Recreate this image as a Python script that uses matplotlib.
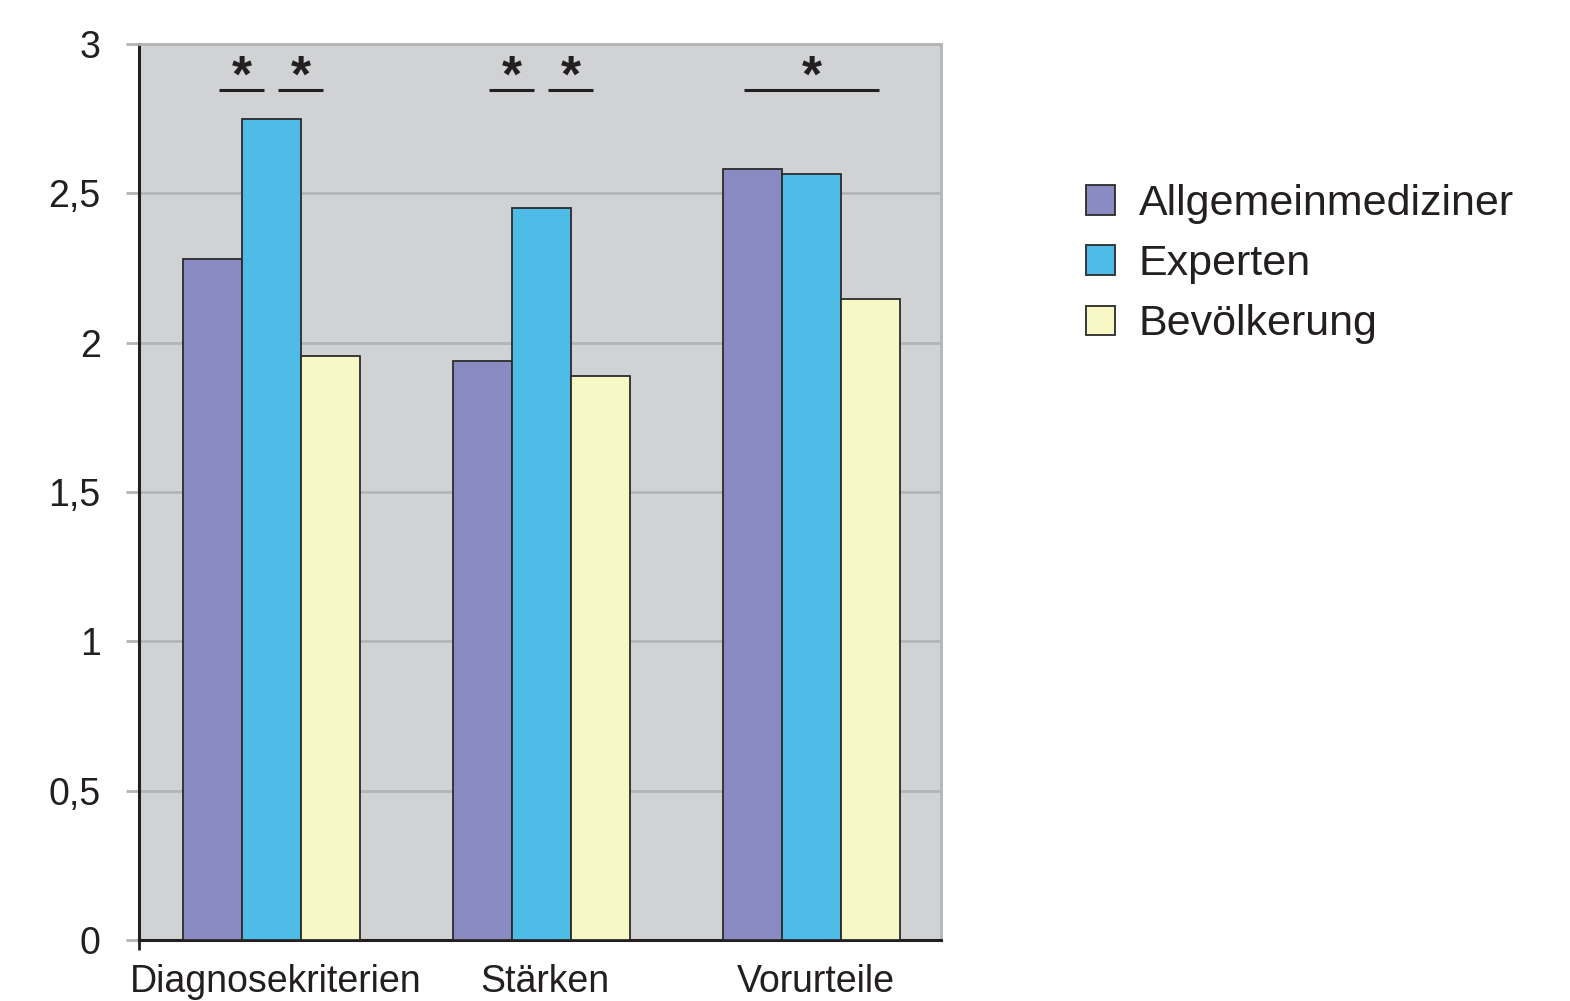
import matplotlib
matplotlib.use("Agg")
import matplotlib.pyplot as plt
import matplotlib.transforms as mtransforms
from matplotlib.patches import Patch
import numpy as np

plt.rcParams['font.family'] = ['Liberation Sans', 'DejaVu Sans']

# -----------------------------------------
# data
# -----------------------------------------
categories = ["Diagnosekriterien", "Stärken", "Vorurteile"]
series_names = ["Allgemeinmediziner", "Experten", "Bevölkerung"]
allgemein = [2.28, 1.94, 2.58]
experten = [2.75, 2.45, 2.565]
bevoelkerung = [1.955, 1.89, 2.145]
y_ticks = [0, 0.5, 1, 1.5, 2, 2.5, 3]
y_ticklabels = ["0", "0,5", "1", "1,5", "2", "2,5", "3"]

# significance markers: (category, first bar, last bar)
sig_pairs = [(0, 0, 1), (0, 1, 2), (1, 0, 1), (1, 1, 2), (2, 0, 2)]
sig_level = 2.845

colors = ["#8b8bc4", "#4fbce8", "#f8f7c6"]
bg = "#d1d2d4"
grid_col = "#b3b4b6"
ink = "#231f20"

# -----------------------------------------
# figure
# -----------------------------------------
fig = plt.figure(figsize=(15.7, 10.01), dpi=100)
ax = fig.add_axes([139 / 1570, 1 - 940 / 1001, 802 / 1570, 896 / 1001])
ax.set_facecolor(bg)

x = np.arange(len(categories))
w = 0.2185
for i, vals in enumerate([allgemein, experten, bevoelkerung]):
    ax.bar(x + (i - 1) * w, vals, width=w, color=colors[i],
           edgecolor="#2b2b2b", linewidth=1.3, zorder=3)

ax.set_xlim(-0.49, 2.48)
ax.set_ylim(0, 3)

# horizontal grid
ax.set_yticks(y_ticks)
ax.set_yticklabels(y_ticklabels, fontsize=27, color=ink)
ax.yaxis.grid(True, color=grid_col, linewidth=2, zorder=1)
ax.set_axisbelow(True)
ax.tick_params(axis="y", length=9.5, width=2, color=grid_col, pad=18)

ax.set_xticks(x)
ax.set_xticklabels(categories, fontsize=27, color=ink)
ax.tick_params(axis="x", length=0, pad=17)
shift = mtransforms.ScaledTranslation(4 / 100, 0, fig.dpi_scale_trans)
for lbl in ax.get_xticklabels():
    lbl.set_transform(lbl.get_transform() + shift)
ax.set_xticks([-0.49], minor=True)
ax.tick_params(axis="x", which="minor", length=7, width=2, color=ink)

for side in ["top", "right"]:
    ax.spines[side].set_color(grid_col)
    ax.spines[side].set_linewidth(2)
for side in ["left", "bottom"]:
    ax.spines[side].set_color(ink)
    ax.spines[side].set_linewidth(2.2)

# significance lines and stars
for cat, b0, b1 in sig_pairs:
    c0 = x[cat] + (b0 - 1) * w
    c1 = x[cat] + (b1 - 1) * w
    mid = (c0 + c1) / 2
    half = 0.083 if b1 - b0 == 1 else 0.25
    ax.plot([mid - half, mid + half], [sig_level, sig_level],
            color=ink, linewidth=2.2, solid_capstyle="butt", zorder=4)
    ax.text(mid, sig_level - 0.005, "*", ha="center", va="baseline",
            fontsize=37, fontweight="bold", color=ink, zorder=4)

# legend
handles = [Patch(facecolor=c, edgecolor="#2b2b2b", linewidth=1.3) for c in colors]
fig.legend(handles, series_names, loc="upper left",
           bbox_to_anchor=(1086 / 1570, 1 - 184 / 1001), frameon=False,
           fontsize=31, labelcolor=ink, handlelength=0.68, handleheight=0.68,
           handletextpad=0.55, labelspacing=0.47, borderaxespad=0,
           borderpad=0)

fig.savefig("out.png", dpi=100)
